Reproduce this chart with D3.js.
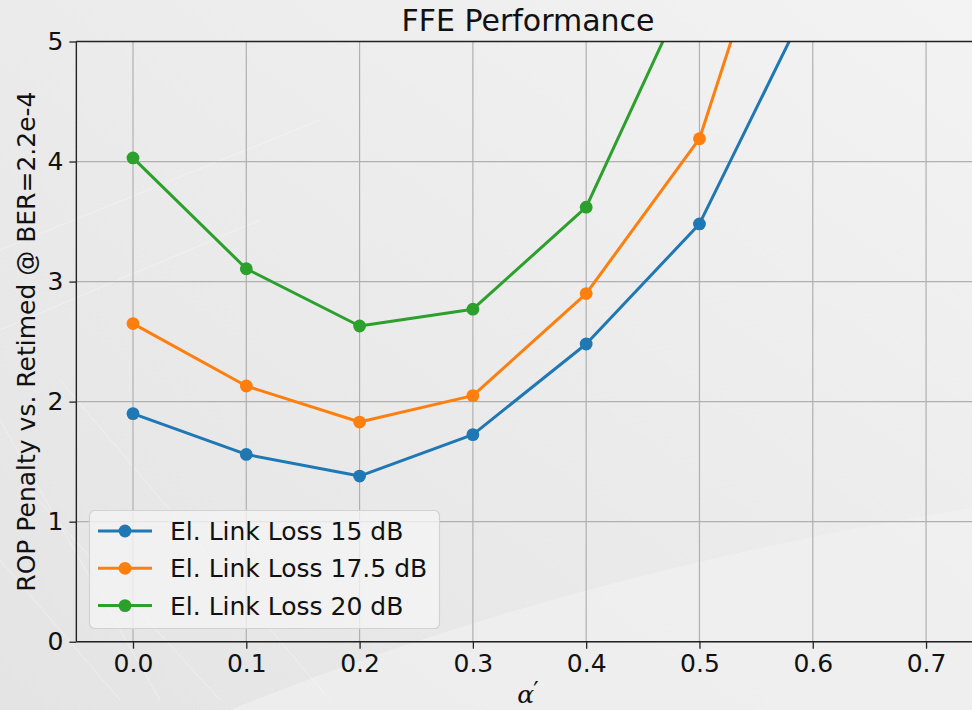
<!DOCTYPE html>
<html>
<head>
<meta charset="utf-8">
<script src="https://cdn.jsdelivr.net/npm/d3@7"></script>
<style>
  html, body { margin: 0; padding: 0; background: #eeeeee; }
  svg { display: block; font-family: "DejaVu Sans", sans-serif; }
</style>
</head>
<body>
<svg id="chart" width="972" height="710"></svg>
<script>
// FFE performance: ROP penalty versus alpha' for three electrical link losses
const alphaValues = [0.0, 0.1, 0.2, 0.3, 0.4, 0.5, 0.6];
const penaltyLoss15 = [1.90, 1.56, 1.38, 1.725, 2.48, 3.48, 5.40];
const penaltyLoss175 = [2.65, 2.13, 1.83, 2.05, 2.90, 4.19, 7.10];
const penaltyLoss20 = [4.03, 3.107, 2.63, 2.77, 3.62, 5.66];
const seriesNames = ["El. Link Loss 15 dB", "El. Link Loss 17.5 dB", "El. Link Loss 20 dB"];
const seriesColors = ["#1f77b4", "#ff7f0e", "#2ca02c"];
const xTicks = [0.0, 0.1, 0.2, 0.3, 0.4, 0.5, 0.6, 0.7];
const yTicks = [0, 1, 2, 3, 4, 5];
const xDomain = [-0.05, 0.75];
const yDomain = [0, 5];

const series = [penaltyLoss15, penaltyLoss175, penaltyLoss20].map((vals, i) => ({
  name: seriesNames[i],
  color: seriesColors[i],
  points: vals.map((v, j) => ({ x: alphaValues[j], y: v }))
}));

const svg = d3.select("#chart");
const W = 972, H = 710;
const FS = 25;

// soft grey backdrop
const defs = svg.append("defs");
const bg = defs.append("linearGradient").attr("id", "bgGrad")
  .attr("x1", "0").attr("y1", "1").attr("x2", "1").attr("y2", "0");
bg.append("stop").attr("offset", "0").attr("stop-color", "#e4e4e4");
bg.append("stop").attr("offset", "0.5").attr("stop-color", "#ebebeb");
bg.append("stop").attr("offset", "1").attr("stop-color", "#f3f3f3");
svg.append("rect").attr("width", W).attr("height", H).attr("fill", "url(#bgGrad)");
svg.append("path")
  .attr("d", "M 230 710 Q 560 575 972 508 L 972 710 Z")
  .attr("fill", "#f2f2f2").attr("opacity", 0.55);
const streaks = svg.append("g").attr("stroke", "#ffffff").attr("stroke-width", 1).attr("opacity", 0.35);
[[0, 250, 320, 120], [0, 330, 260, 220], [0, 420, 160, 700], [20, 480, 220, 700], [0, 560, 120, 700], [60, 380, 330, 700]]
  .forEach(s => streaks.append("line").attr("x1", s[0]).attr("y1", s[1]).attr("x2", s[2]).attr("y2", s[3]));

const x = d3.scaleLinear().domain(xDomain).range([76.35, 982.7]);
const y = d3.scaleLinear().domain(yDomain).range([641.7, 41.5]);
const plotLeft = x.range()[0], plotRight = x.range()[1], plotTop = y.range()[1], plotBottom = y.range()[0];

defs.append("clipPath").attr("id", "plotClip")
  .append("rect").attr("x", plotLeft).attr("y", plotTop)
  .attr("width", plotRight - plotLeft).attr("height", plotBottom - plotTop);

// grid
const grid = svg.append("g").attr("stroke", "#b0b0b0").attr("stroke-width", 1.2);
xTicks.forEach(t => grid.append("line").attr("x1", x(t)).attr("x2", x(t)).attr("y1", plotTop).attr("y2", plotBottom));
yTicks.forEach(t => grid.append("line").attr("x1", plotLeft).attr("x2", plotRight).attr("y1", y(t)).attr("y2", y(t)));

// series
const line = d3.line().x(d => x(d.x)).y(d => y(d.y));
const plot = svg.append("g").attr("clip-path", "url(#plotClip)");
series.forEach(s => {
  plot.append("path").datum(s.points)
    .attr("fill", "none").attr("stroke", s.color).attr("stroke-width", 3)
    .attr("stroke-linejoin", "round").attr("d", line);
  plot.selectAll(null).data(s.points).enter().append("circle")
    .attr("cx", d => x(d.x)).attr("cy", d => y(d.y)).attr("r", 6.4).attr("fill", s.color);
});

// axes
const xAxis = svg.append("g").attr("transform", `translate(0,${plotBottom})`)
  .call(d3.axisBottom(x).tickValues(xTicks).tickFormat(d3.format(".1f")).tickSize(7).tickPadding(6));
const yAxis = svg.append("g").attr("transform", `translate(${plotLeft},0)`)
  .call(d3.axisLeft(y).tickValues(yTicks).tickFormat(d3.format("d")).tickSize(7).tickPadding(6));
[xAxis, yAxis].forEach(a => {
  a.selectAll("text").attr("font-size", FS).attr("fill", "#111").attr("font-family", "DejaVu Sans");
  a.selectAll(".tick line").attr("stroke", "#222").attr("stroke-width", 1.3);
  a.select(".domain").remove();
});
xAxis.selectAll("text").attr("dy", "0.71em");

// spines
const spines = svg.append("g").attr("stroke", "#222").attr("stroke-width", 1.4).attr("fill", "none");
spines.append("line").attr("x1", plotLeft).attr("x2", plotRight).attr("y1", plotTop).attr("y2", plotTop);
spines.append("line").attr("x1", plotLeft).attr("x2", plotRight).attr("y1", plotBottom).attr("y2", plotBottom);
spines.append("line").attr("x1", plotLeft).attr("x2", plotLeft).attr("y1", plotTop).attr("y2", plotBottom);
spines.append("line").attr("x1", plotRight).attr("x2", plotRight).attr("y1", plotTop).attr("y2", plotBottom);

// title and axis labels
svg.append("text").attr("x", 528).attr("y", 30.5)
  .attr("text-anchor", "middle").attr("font-size", 30).attr("fill", "#111")
  .text("FFE Performance");
svg.append("text")
  .attr("transform", `translate(34.5,${(plotTop + plotBottom) / 2}) rotate(-90)`)
  .attr("text-anchor", "middle").attr("font-size", FS).attr("fill", "#111")
  .text("ROP Penalty vs. Retimed @ BER=2.2e-4");
const xl = svg.append("text").attr("x", 528).attr("y", 703)
  .attr("text-anchor", "middle").attr("font-size", FS).attr("fill", "#111");
xl.append("tspan").attr("font-family", "DejaVu Serif").attr("font-style", "italic").text("α");
xl.append("tspan").attr("font-family", "DejaVu Sans").attr("font-size", 24).attr("dy", -4).attr("dx", -1).text("′");

// legend
const legend = svg.append("g");
legend.append("rect").attr("x", 89.5).attr("y", 510.5).attr("width", 350).attr("height", 118)
  .attr("rx", 5).attr("fill", "#f4f4f4").attr("fill-opacity", 0.8)
  .attr("stroke", "#d2d2d2").attr("stroke-width", 1.2);
series.forEach((s, i) => {
  const cy = 531 + i * 37.3;
  legend.append("line").attr("x1", 98).attr("x2", 152).attr("y1", cy).attr("y2", cy)
    .attr("stroke", s.color).attr("stroke-width", 3);
  legend.append("circle").attr("cx", 125).attr("cy", cy).attr("r", 6.4).attr("fill", s.color);
  legend.append("text").attr("x", 170).attr("y", cy).attr("dy", "0.36em")
    .attr("font-size", FS).attr("fill", "#111").text(s.name);
});
</script>
</body>
</html>
